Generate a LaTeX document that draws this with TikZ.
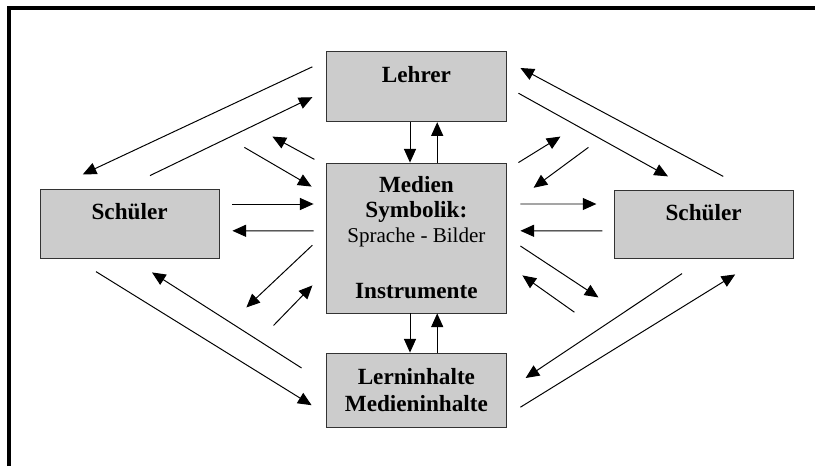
\documentclass[tikz,border=0pt]{standalone}
\usepackage{fontspec}
\setmainfont{Liberation Serif}
\usetikzlibrary{arrows.meta}
\tikzset{>={Triangle[length=3.4mm,width=3mm]}}
\tikzset{feld/.style={draw=black!80,line width=0.6pt,fill=black!20,minimum width=4.48cm,inner sep=2pt,align=center,font=\fontsize{16.5}{17.8}\selectfont\bfseries},
  einzeilig/.style={text height=0.4cm,text depth=0.6cm},
  pfeil/.style={->,line width=0.7pt}}

\begin{document}
\begin{tikzpicture}
\useasboundingbox (0,0) rectangle (20.375,11.65);
\draw [line width=0.1cm] (0.225,0)--(0.225,11.45)--(20.375,11.45);
% Kaesten
\node [feld,einzeilig,minimum height=1.75cm] (lehrer) at (10.41,9.48) {Lehrer};
\node [feld,minimum height=3.75cm] (medien) at (10.41,5.7) {Medien\\Symbolik:\\{\mdseries\fontsize{15}{17.8}\selectfont Sprache - Bilder}\\[22pt]Instrumente};
\node [feld,minimum height=1.85cm,font=\fontsize{16.5}{19.6}\selectfont\bfseries] (lern) at (10.41,1.9) {Lerninhalte\\Medieninhalte};
\node [feld,einzeilig,minimum height=1.72cm] (schuelerL) at (3.24,6.06) {Schüler};
\node [feld,einzeilig,minimum height=1.72cm] (schuelerR) at (17.59,6.04) {Schüler};
% senkrecht
\draw [pfeil] ([xshift=-0.16cm]lehrer.south)--([xshift=-0.16cm]medien.north);
\draw [pfeil] ([xshift=0.52cm]medien.north)--([xshift=0.52cm]lehrer.south);
\draw [pfeil] ([xshift=-0.16cm]medien.south)--([xshift=-0.16cm]lern.north);
\draw [pfeil] ([xshift=0.52cm]lern.north)--([xshift=0.52cm]medien.south);
% links
\draw [pfeil] ([shift={(-0.35,0.5)}]lehrer.west)--([shift={(-1.17,0.36)}]schuelerL.north);
\draw [pfeil] ([shift={(0.51,0.33)}]schuelerL.north)--([shift={(-0.35,-0.26)}]lehrer.west);
\draw [pfeil] ([shift={(-0.3,0.08)}]medien.north west)--([shift={(-1.35,0.65)}]medien.north west);
\draw [pfeil] ([shift={(-2.05,0.38)}]medien.north west)--([shift={(-0.37,-0.6)}]medien.north west);
\draw [pfeil] ([shift={(0.32,0.49)}]schuelerL.east)--([shift={(-0.32,0.85)}]medien.west);
\draw [pfeil] ([shift={(-0.32,0.18)}]medien.west)--([shift={(0.32,-0.18)}]schuelerL.east);
\draw [pfeil] ([shift={(-0.35,-0.18)}]medien.west)--([shift={(-2.0,0.15)}]medien.south west);
\draw [pfeil] ([shift={(-1.32,-0.3)}]medien.south west)--([shift={(-0.35,0.7)}]medien.south west);
\draw [pfeil] ([shift={(-0.84,-0.33)}]schuelerL.south)--([shift={(-0.37,-0.38)}]lern.west);
\draw [pfeil] ([shift={(-0.62,0.55)}]lern.west)--([shift={(0.56,-0.35)}]schuelerL.south);
% rechts
\draw [pfeil] ([shift={(0.49,0.33)}]schuelerR.north)--([shift={(0.35,0.47)}]lehrer.east);
\draw [pfeil] ([shift={(0.3,-0.16)}]lehrer.east)--([shift={(-0.89,0.33)}]schuelerR.north);
\draw [pfeil] ([shift={(0.3,0)}]medien.north east)--([shift={(1.35,0.65)}]medien.north east);
\draw [pfeil] ([shift={(2.05,0.38)}]medien.north east)--([shift={(0.68,-0.63)}]medien.north east);
\draw [pfeil] ([shift={(0.35,0.85)}]medien.east)--([shift={(-0.43,0.51)}]schuelerR.west);
\draw [pfeil] ([shift={(-0.28,-0.16)}]schuelerR.west)--([shift={(0.35,0.18)}]medien.east);
\draw [pfeil] ([shift={(0.35,-0.2)}]medien.east)--([shift={(2.3,0.4)}]medien.south east);
\draw [pfeil] ([shift={(1.7,0.03)}]medien.south east)--([shift={(0.4,0.95)}]medien.south east);
\draw [pfeil] ([shift={(-0.54,-0.36)}]schuelerR.south)--([shift={(0.48,0.3)}]lern.east);
\draw [pfeil] ([shift={(0.35,-0.43)}]lern.east)--([shift={(0.79,-0.38)}]schuelerR.south);
\end{tikzpicture}
\end{document}
